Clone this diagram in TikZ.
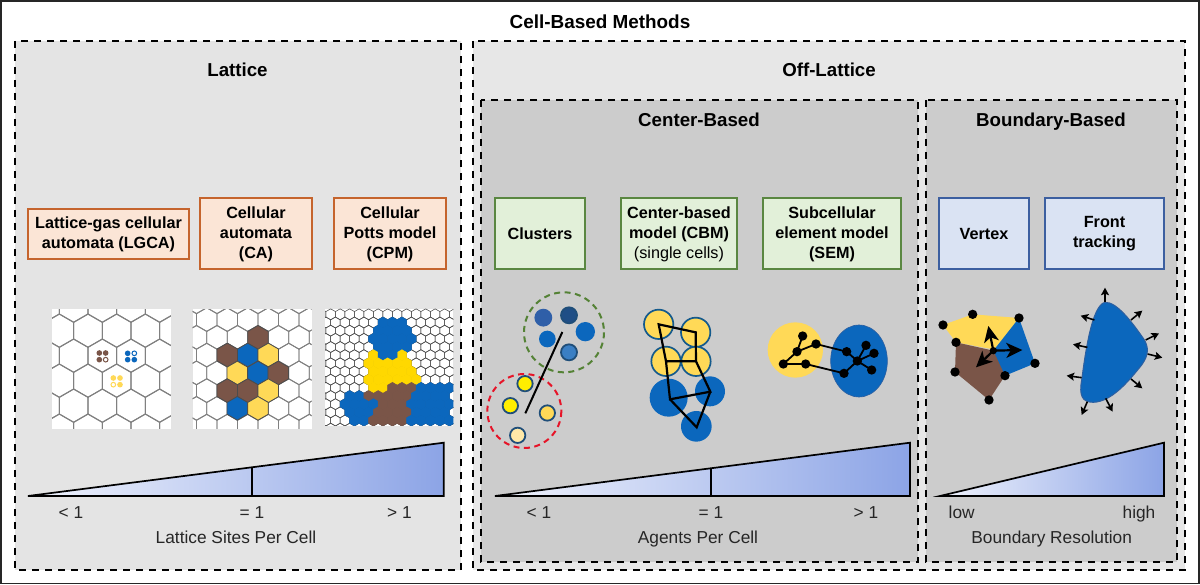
\documentclass[tikz,border=0pt]{standalone}
\usepackage{fontspec}
\setmainfont{Liberation Sans}
\usetikzlibrary{arrows.meta}
\definecolor{cbrown}{HTML}{7A5548}
\definecolor{cblue}{HTML}{0B67BD}
\definecolor{cyel}{HTML}{FFD957}
\definecolor{cyelb}{HTML}{FFD800}
\definecolor{ring}{HTML}{1F4E79}
\definecolor{odraw}{RGB}{197,100,45}
\definecolor{ofill}{RGB}{251,229,214}
\definecolor{gdraw}{RGB}{90,135,65}
\definecolor{gfill}{RGB}{226,240,217}
\definecolor{bdraw}{RGB}{60,95,160}
\definecolor{bfill}{RGB}{218,227,243}
\definecolor{wedgeend}{RGB}{140,164,230}
\definecolor{wedgestart}{RGB}{240,243,252}
\definecolor{cgreen}{RGB}{84,130,53}
\definecolor{cred}{RGB}{230,20,40}
\definecolor{b1}{RGB}{47,95,168}
\definecolor{b2}{RGB}{31,78,134}
\definecolor{b3}{RGB}{58,127,196}
\definecolor{y1}{RGB}{255,238,0}
\definecolor{y2}{RGB}{255,233,168}
\definecolor{ring2}{RGB}{20,90,140}
\definecolor{bedge}{RGB}{45,95,160}
\tikzset{
  panel/.style={draw=black,line width=1.5pt,dash pattern=on 7pt off 6pt},
  hdr/.style={font=\bfseries\fontsize{18.7}{22}\selectfont,inner sep=0pt,anchor=base},
  boxbase/.style={line width=2pt,align=center,inner sep=0pt,font=\bfseries\fontsize{16.2}{20}\selectfont},
  obox/.style={boxbase,draw=odraw,fill=ofill},
  gbox/.style={boxbase,draw=gdraw,fill=gfill},
  bbox/.style={boxbase,draw=bdraw,fill=bfill},
  lab/.style={font=\fontsize{17.3}{20}\selectfont,inner sep=0pt,text=black!85,anchor=base},
  wedgeline/.style={draw=black,line width=1.7pt,line join=miter},
  zoomed/.style={x=.33333pt,y=-.33333pt},
  dot/.style={fill=black},
  cell/.style={draw=ring,line width=1.8pt},
}
\newcommand\hexcell[4]{\path[#1] (#2,#3) ++(90:#4) -- ++(-30:#4) -- ++(-90:#4) -- ++(-150:#4) -- ++(150:#4) -- ++(90:#4) -- cycle;}
\newcommand\cpmcell[3]{\pgfmathsetmacro\xx{62+14.25*mod(#1,2)+28.5*#2}\pgfmathsetmacro\yy{43+24.5*#1}\hexcell{#3}{\xx}{\yy}{16.45}}
\newcommand\cpmrow[4]{\foreach \k in {#2,...,#3}{\cpmcell{#1}{\k}{fill=#4,draw=#4,line width=.4pt}}}
\newcommand\wedgeshape[4]{%
  \shade[left color=wedgestart,right color=wedgeend] (#1,#4) -- (#2,#3) -- (#2,#4) -- cycle;
  \draw[wedgeline] (#1,#4) -- (#2,#3) -- (#2,#4) -- cycle;}
\begin{document}
\begin{tikzpicture}[x=1pt,y=-1pt]
\useasboundingbox (0,0) rectangle (1200,585);
\fill[white] (0,0) rectangle (1200,585);
\draw[black!85,line width=1.6pt] (1,1) rectangle (1199,583.5);
\node[font=\bfseries\fontsize{18.9}{21}\selectfont,inner sep=0pt,anchor=base] (title) at (600,28.5) {Cell-Based Methods};
% panels
\path[panel,fill=black!10.5] (15,41) rectangle (461,570);
\path[panel,fill=black!9.5] (473,41) rectangle (1185,570);
\path[panel,fill=black!20] (481,100) rectangle (918,562);
\path[panel,fill=black!20] (926,100) rectangle (1177,562);
\node[hdr] (lattice) at (237.5,77) {Lattice};
\node[hdr] (off) at (829,77) {Off-Lattice};
\node[hdr] (center) at (699,127) {Center-Based};
\node[hdr] (boundary) at (1051,127) {Boundary-Based};
% boxes
\node[obox,minimum width=161pt,minimum height=50pt] (lgca) at (108.5,234) {Lattice-gas cellular\\automata (LGCA)};
\node[obox,minimum width=112pt,minimum height=71pt] (ca) at (256,234) {Cellular\\automata\\(CA)};
\node[obox,minimum width=112pt,minimum height=71pt] (cpm) at (390,234) {Cellular\\Potts model\\(CPM)};
\node[gbox,minimum width=90pt,minimum height=71pt] (clusters) at (540,234) {Clusters};
\node[gbox,minimum width=116pt,minimum height=71pt] (cbm) at (679,234) {Center-based\\model (CBM)\\{\mdseries (single cells)}};
\node[gbox,minimum width=138pt,minimum height=71pt] (sem) at (832,234) {Subcellular\\element model\\(SEM)};
\node[bbox,minimum width=90pt,minimum height=71pt] (vertex) at (984,234) {Vertex};
\node[bbox,minimum width=119pt,minimum height=71pt] (front) at (1104.5,234) {Front\\tracking};
% LGCA picture
\begin{scope}[shift={(20,290)},zoomed]
\fill[white] (96,58) rectangle (453,417);
\begin{scope}
\clip (96,58) rectangle (453,417);
\foreach \j in {-3,...,4}{\foreach \i in {-3,...,3}{
  \pgfmathsetmacro\xx{247+86*\i+43*mod(\j+10,2)}
  \pgfmathsetmacro\yy{197+75*\j}
  \hexcell{draw=black!50,line width=1pt}{\xx}{\yy}{49.7}}}
\end{scope}
\foreach \x/\y in {238/189,257/189,238/209}{\fill[cbrown] (\x,\y) circle (8.5);}
\draw[cbrown,line width=1pt] (257,209) circle (7);
\foreach \x/\y in {323/190,323/209,343/209}{\fill[cblue] (\x,\y) circle (8.5);}
\draw[cblue,line width=1pt] (343,190) circle (7);
\foreach \x/\y in {280/264,300/264,300/284}{\fill[cyel] (\x,\y) circle (8.5);}
\draw[cyel,line width=1pt] (280,284) circle (7);
% CA picture
\fill[white] (518,58) rectangle (875,417);
\begin{scope}
\clip (518,58) rectangle (875,417);
\foreach \j in {-2,...,6}{\foreach \i in {-4,...,3}{
  \pgfmathsetmacro\xx{714+61.5*\i-30.75*mod(\j+10,2)}
  \pgfmathsetmacro\yy{142+53.3*\j}
  \hexcell{draw=black!50,line width=.9pt}{\xx}{\yy}{35.5}}}
\foreach \x/\y/\c in {714/142/cbrown,622/195/cbrown,683/195/cblue,745/195/cyel,652/249/cyel,714/249/cblue,775/249/cbrown,622/302/cbrown,683/302/cbrown,745/302/cyel,652/355/cblue,714/355/cyel}{
  \hexcell{fill=\c,draw=black!70,line width=.8pt}{\x}{\y}{35.5}}
\end{scope}
\end{scope}
% CPM picture
\begin{scope}[shift={(310,300)},zoomed]
\fill[white] (45,27) rectangle (430,378);
\begin{scope}
\clip (45,27) rectangle (430,378);
\foreach \r in {0,...,14}{\foreach \q in {-1,...,13}{\cpmcell{\r}{\q}{draw=black!70,line width=.55pt}}}
\cpmrow{1}{5}{7}{cblue}
\cpmrow{2}{5}{8}{cblue}
\cpmrow{3}{4}{8}{cblue}
\cpmrow{4}{5}{8}{cblue}
\cpmrow{5}{4}{4}{cyelb}
\cpmrow{5}{7}{7}{cyelb}
\cpmrow{5}{5}{6}{cblue}
\cpmrow{6}{4}{8}{cyelb}
\cpmrow{7}{4}{8}{cyelb}
\cpmrow{8}{4}{9}{cyelb}
\cpmrow{9}{4}{5}{cyelb}
\cpmrow{9}{6}{8}{cbrown}
\cpmrow{9}{9}{12}{cblue}
\cpmrow{10}{2}{3}{cblue}
\cpmrow{10}{4}{8}{cbrown}
\cpmrow{10}{9}{12}{cblue}
\cpmrow{11}{1}{4}{cblue}
\cpmrow{11}{5}{7}{cbrown}
\cpmrow{11}{8}{12}{cblue}
\cpmrow{12}{2}{4}{cblue}
\cpmrow{12}{5}{8}{cbrown}
\cpmrow{12}{9}{12}{cblue}
\cpmrow{13}{2}{3}{cblue}
\cpmrow{13}{4}{7}{cbrown}
\cpmrow{13}{8}{12}{cblue}
\end{scope}
\end{scope}
% Clusters and CBM
\begin{scope}[shift={(480,290)},zoomed]
\draw[draw=cgreen,line width=2pt,dash pattern=on 6pt off 4.5pt] (252,127) circle (120);
\draw[draw=cred,line width=2pt,dash pattern=on 6pt off 4.5pt] (133,363) circle (111);
\path[cell,fill=b1,draw=b1] (190,83) circle (24);
\path[cell,fill=b2] (267,76) circle (24);
\path[cell,fill=cblue,draw=none] (316,125) circle (29);
\path[cell,fill=cblue,draw=none] (202,147) circle (25);
\path[cell,fill=b3] (267,187) circle (24);
\path[cell,fill=y1] (135,281) circle (23);
\path[cell,fill=y1] (91,347) circle (23);
\path[cell,fill=cyel] (202,369) circle (23);
\path[cell,fill=y2] (113,436) circle (23);
\coordinate (ca1) at (247,126);
\coordinate (ca2) at (136,370);
\draw[black,line width=2pt] (ca1) -- (ca2);
% CBM
\foreach \x/\y/\r in {536/103/44,647/127/44,558/214/44,648/214/44}{
  \path[fill=cyel,draw=ring2,line width=1.7pt] (\x,\y) circle (\r);}
\foreach \x/\y/\r in {566/323/57,690/304/45,649/409/46}{
  \path[fill=cblue] (\x,\y) circle (\r);}
\coordinate (A) at (536,103);\coordinate (B) at (647,127);\coordinate (C) at (648,214);
\coordinate (D) at (558,214);\coordinate (E) at (570,328);\coordinate (F) at (691,305);\coordinate (G) at (650,412);
\draw[black,line width=2.2pt,line join=miter] (A)--(B)--(C)--(D)--cycle (D)--(E)--(F)--(C) (E)--(G)--(F);
\end{scope}
% SEM
\begin{scope}[shift={(720,290)},zoomed]
\fill[cyel] (226,180) circle (83);
\path[fill=cblue,draw=bedge,line width=.6pt] (417,213) ellipse (85 and 108);
\foreach \n/\x/\y in {a/248/138,b/288/162,c/231/185,d/190/222,e/257/222,f/380/185,g/372/250,h/412/213,i/438/166,j/462/190,k/455/240}{
  \coordinate (\n) at (\x,\y);}
\draw[black,line width=1.8pt] (c)--(a) (c)--(b) (c)--(d)--(e)--(g)--(h)--(f)--(b) (h)--(i) (h)--(j) (h)--(k);
\foreach \n in {a,b,c,d,e,f,g,h,i,j,k}{\fill[dot] (\n) circle (14);}
\end{scope}
% Vertex
\begin{scope}[shift={(925,285)},zoomed]
\fill[cyel] (54,120) -- (143,88) -- (282,99) -- (215,195) -- (93,172) -- cycle;
\fill[cblue] (282,99) -- (330,235) -- (240,272) -- (215,235) -- (205,197) -- cycle;
\fill[cbrown] (93,172) -- (205,197) -- (240,272) -- (192,345) -- (90,261) -- cycle;
\coordinate (vc) at (205,197);
\foreach \n/\x/\y in {v1/54/120,v2/143/88,v3/282/99,v4/93/172,v5/330/235,v6/90/261,v7/240/272,v8/192/345}{
  \fill[dot] (\x,\y) coordinate (\n) circle (14);}
\fill[dot] (vc) circle (11);
\coordinate (u1) at (190,123);\coordinate (u2) at (292,195);\coordinate (u3) at (153,247);
\foreach \n in {u1,u2,u3}{
  \draw[black,line width=2.2pt,-{Stealth[length=16pt,width=15pt,inset=4.5pt]}] (vc) -- (\n);}
% Front tracking
\path[fill=cblue,draw=bedge,line width=1pt]
 (540,52) .. controls (575,50) and (620,110) .. (655,160) .. controls (672,185) and (672,210) .. (650,240)
 .. controls (610,290) and (560,350) .. (505,352) .. controls (470,352) and (462,330) .. (470,285)
 .. controls (480,210) and (500,60) .. (540,52) -- cycle;
\foreach \xa/\ya/\xb/\yb in {540/50/540/8,618/105/652/77,662/165/702/145,668/207/712/218,618/282/652/310,542/340/563/380,487/350/470/390,470/278/425/272,487/187/444/178,508/105/467/92}{
  \draw[black,line width=1.6pt,-{Stealth[length=7.5pt,width=8pt,inset=1.5pt]}] (\xa,\ya) -- (\xb,\yb);}
\end{scope}
% wedges
\wedgeshape{28}{443.7}{442.7}{496}
\draw[wedgeline] (252,468) -- (252,496);
\wedgeshape{495}{910}{442.7}{496}
\draw[wedgeline] (711,468) -- (711,496);
\wedgeshape{940}{1164}{442.7}{496}
% labels
\node[lab] (l1) at (71,518) {< 1};
\node[lab] (l2) at (252,518) {= 1};
\node[lab] (l3) at (399.5,518) {> 1};
\node[lab] (l4) at (236,543) {Lattice Sites Per Cell};
\node[lab] (c1) at (539,518) {< 1};
\node[lab] (c2) at (711,518) {= 1};
\node[lab] (c3) at (866,518) {> 1};
\node[lab] (c4) at (698,543) {Agents Per Cell};
\node[lab] (b1n) at (961.7,518) {low};
\node[lab] (b2n) at (1139,518) {high};
\node[lab] (b3n) at (1051.7,543) {Boundary Resolution};
\end{tikzpicture}
\end{document}
